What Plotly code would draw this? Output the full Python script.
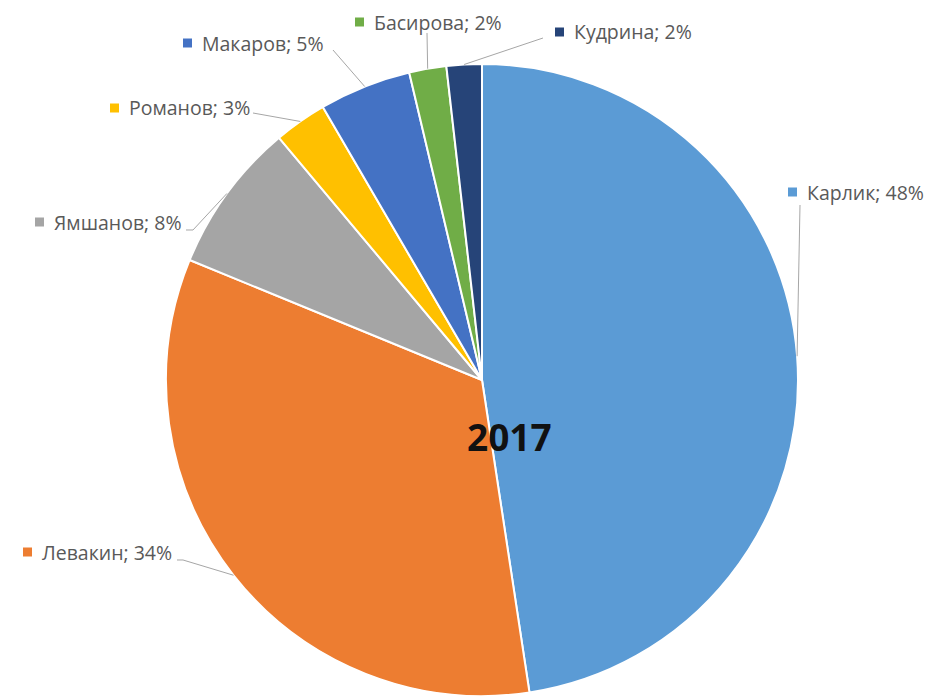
import math
import plotly.graph_objects as go

# Data
names = ["Карлик", "Левакин", "Ямшанов", "Романов", "Макаров", "Басирова", "Кудрина"]
values = [47.6, 33.6, 7.7, 2.7, 4.7, 1.9, 1.8]
colors = ["#5B9BD5", "#ED7D31", "#A5A5A5", "#FFC000", "#4472C4", "#70AD47", "#264478"]
title_text = "2017"

# Layout constants (pixels, in screenshot coordinates)
W, H = 938, 700
OFF = 8  # page body margin
CX, CY, R = 482, 380, 316
label_pos = {
    "Карлик": (808, 192),
    "Левакин": (43, 552),
    "Ямшанов": (55, 222),
    "Романов": (130, 108),
    "Макаров": (203, 43),
    "Басирова": (375, 22),
    "Кудрина": (575, 32),
}
line_anchor = {
    "Карлик": [(800, 205)],
    "Левакин": [(177, 560), (183, 560)],
    "Ямшанов": [(186, 230), (193, 230)],
    "Романов": [(253, 113)],
    "Макаров": [(333, 50)],
    "Басирова": [(427, 33)],
    "Кудрина": [(543, 38)],
}

def px(x):
    return (x - OFF) / W

def py(y):
    return 1 - (y - OFF) / H

fig = go.Figure(go.Pie(
    labels=names, values=values, sort=False, direction="clockwise", rotation=0,
    marker=dict(colors=colors, line=dict(color="white", width=2)),
    textinfo="none", hoverinfo="label+percent", showlegend=False,
    domain=dict(x=[px(CX - R), px(CX + R)], y=[py(CY + R), py(CY - R)]),
))

total = sum(values)
cum = 0.0
shapes = []
annotations = []
for n, v, c in zip(names, values, colors):
    mid = (cum + v / 2) / total * 2 * math.pi
    cum += v
    ex = CX + R * math.sin(mid)
    ey = CY - R * math.cos(mid)
    pts = line_anchor[n] + [(ex, ey)]
    path = "M " + " L ".join(f"{px(x):.5f},{py(y):.5f}" for x, y in pts)
    shapes.append(dict(type="path", xref="paper", yref="paper", path=path,
                       line=dict(color="#A6A6A6", width=1)))
    tx, ty = label_pos[n]
    shapes.append(dict(type="rect", xref="paper", yref="paper",
                       x0=px(tx - 20), x1=px(tx - 11), y0=py(ty + 4.5), y1=py(ty - 4.5),
                       fillcolor=c, line=dict(width=0)))
    pct = round(v / total * 100)
    annotations.append(dict(x=px(tx - 2), y=py(ty), xref="paper", yref="paper",
                            xanchor="left", yanchor="middle", showarrow=False,
                            borderpad=0,
                            text=f"{n}; {pct}%",
                            font=dict(family="Open Sans", size=19.5, color="#595959")))

annotations.append(dict(x=px(509), y=py(436), xref="paper", yref="paper",
                        xanchor="center", yanchor="middle", showarrow=False,
                        text=f"<b>{title_text}</b>",
                        font=dict(family="Open Sans", size=37, color="#111111")))

fig.update_layout(width=W, height=H, margin=dict(l=0, r=0, t=0, b=0),
                  paper_bgcolor="white", plot_bgcolor="white",
                  shapes=shapes, annotations=annotations)
fig.write_html("out.html")
